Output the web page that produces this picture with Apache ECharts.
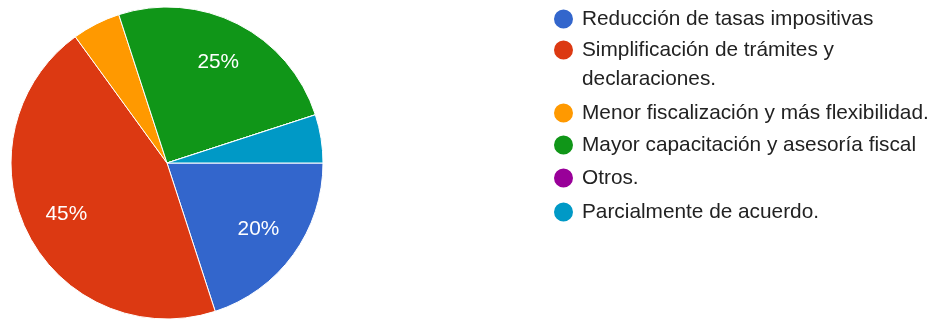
<!DOCTYPE html>
<html><head><meta charset="utf-8">
<script src="https://cdn.jsdelivr.net/npm/echarts@6/dist/echarts.min.js"></script>
<style>html,body{margin:0;padding:0;background:#fff}#c{width:939px;height:320px}</style>
</head><body><div id="c"></div>
<script>
const categories = ['Reducción de tasas impositivas', 'Simplificación de trámites y declaraciones.', 'Menor fiscalización y más flexibilidad.', 'Mayor capacitación y asesoría fiscal', 'Otros.', 'Parcialmente de acuerdo.'];
const legendLines = [['Reducción de tasas impositivas'], ['Simplificación de trámites y', 'declaraciones.'], ['Menor fiscalización y más flexibilidad.'], ['Mayor capacitación y asesoría fiscal'], ['Otros.'], ['Parcialmente de acuerdo.']];
const values = [4, 9, 1, 5, 0, 1];
const colors = ['#3366cc', '#dc3912', '#ff9900', '#109618', '#990099', '#0099c6'];

// layout (symbol centre y of each legend row)
const legendCenters = [18, 50, 112, 144, 177, 211];
const LH = 29;
const SYM = 21;
const FONT = 'Liberation Sans';
const FS = 20.8;

const data = categories.map((n, i) => ({ name: n, value: values[i], itemStyle: { color: colors[i] } }));

const legends = categories.map((n, i) => {
  const lines = legendLines[i];
  const two = lines.length > 1;
  // two-line item: add an empty line on top so the first line sits on the symbol
  const text = two ? '\n' + lines.join('\n') : lines[0];
  return {
    data: [n],
    orient: 'vertical',
    left: 552,
    top: two ? legendCenters[i] - 1.5 * LH : legendCenters[i] - SYM / 2,
    padding: 0,
    itemWidth: SYM,
    itemHeight: SYM,
    icon: 'circle',
    selectedMode: false,
    formatter: () => text,
    textStyle: { fontFamily: FONT, fontSize: FS, color: '#222', lineHeight: two ? LH : SYM, padding: [0, 0, 0, 3] }
  };
});

const chart = echarts.init(document.getElementById('c'), null, { renderer: 'canvas' });
chart.setOption({
  animation: false,
  color: colors,
  legend: legends,
  series: [
    {
      type: 'pie',
      center: [167, 163],
      radius: 156,
      startAngle: 0,
      clockwise: true,
      silent: true,
      label: { show: false },
      labelLine: { show: false },
      itemStyle: { borderColor: '#fff', borderWidth: 1 },
      emphasis: { disabled: true },
      data: data
    },
    {
      type: 'pie',
      center: [167, 163],
      radius: [64, 156],
      startAngle: 0,
      clockwise: true,
      silent: true,
      legendHoverLink: false,
      itemStyle: { color: 'rgba(0,0,0,0)', borderWidth: 0 },
      label: {
        show: true,
        position: 'inside',
        color: '#fff',
        fontFamily: FONT,
        fontSize: FS,
        formatter: p => (p.percent >= 10 ? p.percent + '%' : '')
      },
      labelLine: { show: false },
      emphasis: { disabled: true },
      data: categories.map((n, i) => ({ name: n, value: values[i] }))
    }
  ]
});
</script></body></html>
